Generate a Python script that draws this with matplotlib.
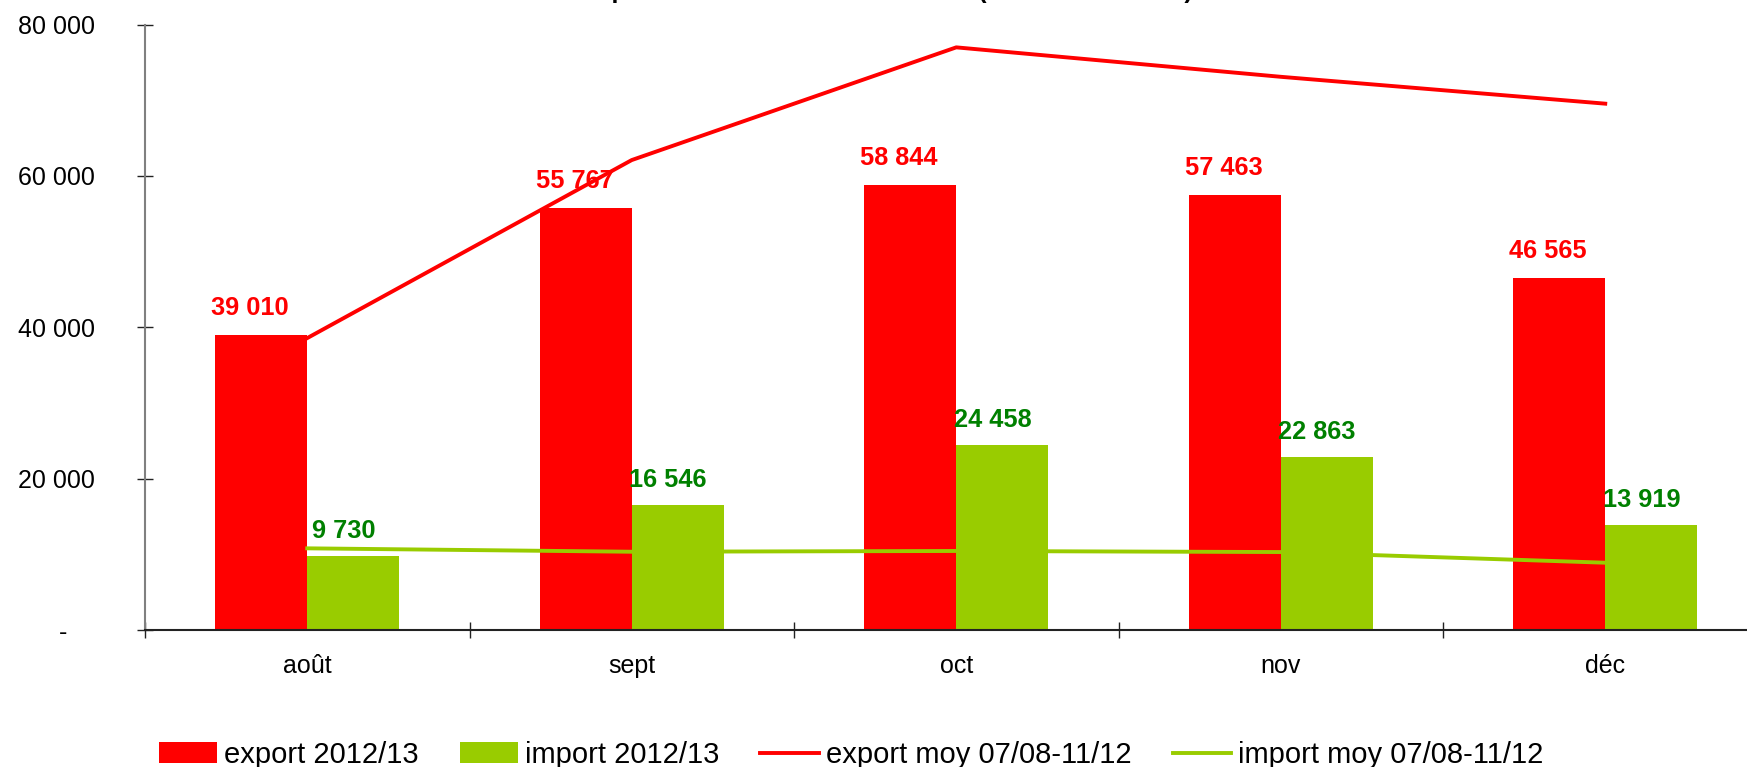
import matplotlib
matplotlib.use("Agg")
import matplotlib.pyplot as plt
import numpy as np
from matplotlib.ticker import FuncFormatter, FixedLocator

# ---- data ----
months = ["août", "sept", "oct", "nov", "déc"]
export_2012_13 = [39010, 55767, 58844, 57463, 46565]
import_2012_13 = [9730, 16546, 24458, 22863, 13919]
export_moy = [38570, 62090, 76980, 73090, 69540]
import_moy = [10790, 10340, 10440, 10300, 8890]
series_names = ["export 2012/13", "import 2012/13",
                "export moy 07/08-11/12", "import moy 07/08-11/12"]
title_text = "Exportations et achats mensuels (en tonnes de blé)"

RED = "#FF0000"
GREEN = "#99CC00"
DKGREEN = "#008000"

plt.rcParams['font.family'] = ['Liberation Sans', 'DejaVu Sans']

W, H = 1747, 767
fig = plt.figure(figsize=(W / 100, H / 100), dpi=100)
left_px, zero_px, top_px = 145, 630, 24.5
ax = fig.add_axes([left_px / W, (H - zero_px) / H, (W - left_px) / W, (zero_px - top_px) / H])

x = np.arange(len(months))
bw = 0.284
b1 = ax.bar(x - bw / 2, export_2012_13, width=bw, color=RED, zorder=2, label=series_names[0])
b2 = ax.bar(x + bw / 2, import_2012_13, width=bw, color=GREEN, zorder=2, label=series_names[1])
l1, = ax.plot(x, export_moy, color=RED, lw=2.8, zorder=3, label=series_names[2])
l2, = ax.plot(x, import_moy, color=GREEN, lw=2.8, zorder=3, label=series_names[3])

def fmt(v):
    return f"{v:,.0f}".replace(",", " ")

for xi, v in zip(x, export_2012_13):
    ax.annotate(fmt(v), (xi - bw / 2, v), xytext=(-11, 20), textcoords='offset pixels',
                ha='center', va='baseline', fontsize=18.3, fontweight='bold', color=RED, zorder=4)
for xi, v in zip(x, import_2012_13):
    ax.annotate(fmt(v), (xi + bw / 2, v), xytext=(-10, 18), textcoords='offset pixels',
                ha='center', va='baseline', fontsize=18.3, fontweight='bold', color=DKGREEN, zorder=4)

ax.set_ylim(0, 80000)
ax.set_xlim(-0.5, -0.5 + (W - left_px) / 324.5)
ax.set_yticks([0, 20000, 40000, 60000, 80000])
ax.yaxis.set_major_formatter(FuncFormatter(lambda v, p: "-    " if v == 0 else fmt(v)))
ax.tick_params(axis='y', direction='inout', length=11.5, width=1, color='#222222',
               labelsize=18, pad=30)

ax.set_xticks(x)
ax.set_xticklabels(months)
ax.xaxis.set_minor_locator(FixedLocator(np.arange(-0.5, 5.0, 1.0)))
ax.tick_params(axis='x', which='major', length=0, labelsize=18, pad=17)
ax.tick_params(axis='x', which='minor', direction='inout', length=12, width=1, color='#222222')

for s in ['top', 'right']:
    ax.spines[s].set_visible(False)
ax.spines['left'].set_color('#808080')
ax.spines['left'].set_linewidth(1.5)
ax.spines['bottom'].set_color('#222222')
ax.spines['bottom'].set_linewidth(1.5)
ax.set_facecolor('white')

fig.text(581 / W, 1 + 2 / H, title_text, ha='left', va='baseline',
         fontsize=18, fontweight='bold', color='black')

fig.legend(handles=[b1, b2, l1, l2], loc='center', bbox_to_anchor=(851 / W, 1 - 755 / H),
           ncol=4, frameon=False, fontsize=21, handlelength=2.0, handleheight=0.72,
           handletextpad=0.25, columnspacing=1.4, borderpad=0, borderaxespad=0)

fig.savefig("out.png", dpi=100, facecolor='white')
